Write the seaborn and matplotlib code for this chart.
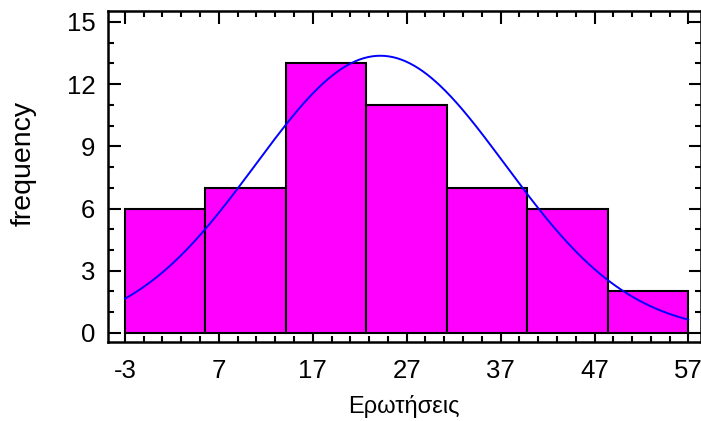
import numpy as np
import pandas as pd
import matplotlib
matplotlib.use("Agg")
import matplotlib.pyplot as plt
import seaborn as sns
from matplotlib.ticker import MultipleLocator

sns.set_style("ticks", {"text.color": "black", "axes.labelcolor": "black",
                        "xtick.color": "black", "ytick.color": "black",
                        "axes.edgecolor": "black"})
plt.rcParams['font.family'] = ['Liberation Sans', 'DejaVu Sans']
plt.rcParams['axes.unicode_minus'] = False

# histogram: 7 classes from -3 to 57 and their counts
x_lo, x_hi = -3, 57
counts = [6, 7, 13, 11, 7, 6, 2]
# fitted normal curve
mean = 24.2
sd = 13.3

nbins = len(counts)
bin_width = (x_hi - x_lo) / nbins
centers = x_lo + bin_width * (np.arange(nbins) + 0.5)
n = sum(counts)
df = pd.DataFrame({"x": centers, "w": counts})

fig = plt.figure(figsize=(7.01, 4.21), dpi=100)
ax = fig.add_axes([0.154, 0.188, 0.8455, 0.786])

sns.histplot(data=df, x="x", weights="w", bins=nbins, binrange=(x_lo, x_hi),
             color="#FF00FF", alpha=1, edgecolor="black", linewidth=1.5, ax=ax)

xs = np.linspace(x_lo, x_hi, 400)
ys = n * bin_width * np.exp(-0.5 * ((xs - mean) / sd) ** 2) / (sd * np.sqrt(2 * np.pi))
sns.lineplot(x=xs, y=ys, color="#0000FF", linewidth=1.4, ax=ax)

ax.set_xlim(-4.8, 58.3)
ax.set_ylim(-0.43, 15.53)
ax.set_xticks(np.arange(-3, 58, 10))
ax.set_xticks(np.arange(-3, 58, 2), minor=True)
ax.yaxis.set_major_locator(MultipleLocator(3))
ax.yaxis.set_minor_locator(MultipleLocator(1))

ax.tick_params(which="both", direction="in", top=True, right=True, width=1.5)
ax.tick_params(which="major", length=9, labelsize=18.5)
ax.tick_params(axis="x", which="major", pad=12)
ax.tick_params(axis="y", which="major", pad=9)
ax.tick_params(which="minor", length=4.5)
for s in ax.spines.values():
    s.set_linewidth(1.8)
    s.set_visible(True)

ax.set_xlabel("Ερωτήσεις", fontsize=17, labelpad=9)
ax.set_ylabel("frequency", fontsize=20.5)
ax.yaxis.set_label_coords(-0.12, 0.54)

fig.savefig("out.png", dpi=100)
